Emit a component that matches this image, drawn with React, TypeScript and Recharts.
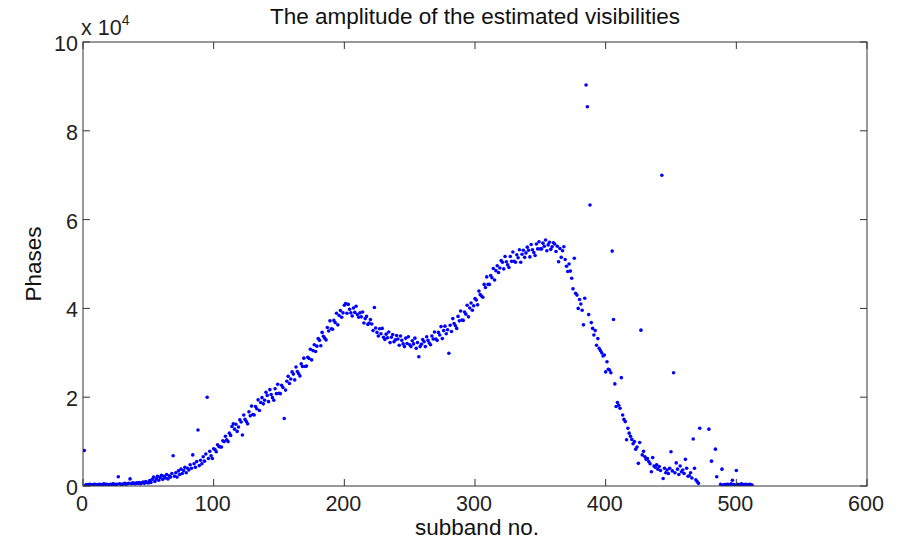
import { Scatter, ScatterChart, XAxis, YAxis } from "recharts";

// amplitude per subband, in units of 1e4 (null = no point drawn)
const amp001to050 = [
  0.8, 0.02, 0.03, 0.02, 0.04, 0.03, 0.02, 0.03, 0.04, 0.02,
  0.03, 0.03, 0.04, 0.02, 0.03, 0.05, 0.03, 0.04, 0.03, 0.02,
  0.04, 0.03, 0.05, 0.04, 0.03, 0.04, 0.21, 0.05, 0.04, 0.03,
  0.05, 0.06, 0.04, 0.05, 0.06, 0.16, 0.05, 0.07, 0.06, 0.05,
  0.07, 0.06, 0.08, 0.05, 0.07, 0.09, 0.06, 0.1, 0.08, 0.07,
];
const amp051to100 = [
  0.12, 0.08, 0.15, 0.2, 0.1, 0.16, 0.22, 0.13, 0.19, 0.24,
  0.15, 0.22, 0.18, 0.26, 0.16, 0.23, 0.2, 0.28, 0.68, 0.22,
  0.3, 0.2, 0.34, 0.26, 0.38, 0.28, 0.35, 0.42, 0.3, 0.4,
  0.36, 0.48, 0.4, 0.7, 0.5, 0.42, 0.55, 1.26, 0.46, 0.58,
  0.5, 0.66, 0.56, 0.72, 2.0, 0.62, 0.78, 0.68, 0.62, 0.84,
];
const amp101to150 = [
  0.82, 0.77, 0.93, 0.89, 0.88, 0.88, 1.02, 1.0, 1.12, 1.04,
  1.0, 1.19, 1.14, 1.34, 1.4, 1.28, 1.39, 1.23, 1.33, 1.49,
  1.44, 1.15, 1.6, 1.5, 1.45, 1.4, 1.67, 1.58, 1.8, 1.61,
  1.6, 1.79, 1.74, 1.94, 1.7, 1.88, 1.99, 1.85, 1.93, 2.11,
  2.04, 1.9, 2.17, 2.06, 1.99, 1.93, 2.19, 2.08, 2.29, 2.09,
];
const amp151to200 = [
  2.08, 2.27, 2.22, 1.52, 2.16, 2.36, 2.47, 2.31, 2.41, 2.57,
  2.52, 2.39, 2.68, 2.58, 2.53, 2.48, 2.75, 2.69, 2.88, 2.69,
  2.7, 2.9, 2.87, 3.08, 2.84, 3.05, 3.18, 3.03, 3.15, 3.32,
  3.28, 3.16, 3.46, 3.37, 3.33, 3.29, 3.57, 3.49, 3.72, 3.54,
  3.53, 3.73, 3.68, 3.89, 3.63, 3.84, 3.95, 3.8, 3.9, 4.07,
];
const amp201to250 = [
  4.11, 3.89, 4.09, 3.98, 3.9, 3.83, 4.01, 3.91, 4.05, 3.86,
  3.8, 3.9, 3.81, 3.92, 3.67, 3.77, 3.82, 3.64, 3.67, 3.75,
  3.65, 3.5, 4.02, 3.56, 3.46, 3.38, 3.54, 3.43, 3.55, 3.35,
  3.3, 3.42, 3.34, 3.47, 3.23, 3.35, 3.41, 3.25, 3.29, 3.39,
  3.31, 3.17, 3.38, 3.28, 3.2, 3.14, 3.33, 3.21, 3.36, 3.18,
];
const amp251to300 = [
  3.14, 3.27, 3.2, 3.33, 3.1, 3.23, 2.91, 3.14, 3.19, 3.3,
  3.25, 3.14, 3.36, 3.28, 3.22, 3.18, 3.38, 3.31, 3.47, 3.31,
  3.28, 3.46, 3.4, 3.59, 3.32, 3.5, 3.6, 3.43, 3.52, 2.99,
  3.62, 3.48, 3.77, 3.66, 3.61, 3.55, 3.82, 3.72, 3.94, 3.74,
  3.73, 3.92, 3.87, 4.07, 3.81, 4.01, 4.12, 3.96, 4.06, 4.22,
];
const amp301to350 = [
  4.19, 4.08, 4.39, 4.31, 4.28, 4.25, 4.54, 4.47, 4.71, 4.54,
  4.54, 4.74, 4.69, 4.9, 4.64, 4.85, 4.96, 4.81, 4.91, 5.08,
  5.04, 4.89, 5.17, 5.05, 4.98, 4.92, 5.17, 5.06, 5.27, 5.06,
  5.04, 5.21, 5.14, 5.32, 5.04, 5.22, 5.31, 5.15, 5.25, 5.38,
  5.31, 5.16, 5.44, 5.32, 5.26, 5.19, 5.45, 5.34, 5.5, 5.34,
];
const amp351to400 = [
  5.34, 5.47, 5.4, 5.54, 5.3, 5.43, 5.49, 5.33, 5.39, 5.48,
  5.45, 5.28, 5.4, 5.05, 5.35, 5.15, 5.3, 5.39, 5.1, 4.95,
  4.83, 5.0, 4.84, 4.68, 4.44, 5.13, 4.34, 4.3, 4.0, 4.2,
  4.1, 3.96, 3.63, 4.23, 9.03, 8.54, 3.86, 6.33, 3.68, 3.55,
  3.4, 3.5, 3.17, 3.32, 3.1, 3.05, 3.0, 2.93, 2.95, 2.57,
];
const amp401to450 = [
  2.8, 2.63, 2.61, 2.55, 5.29, 3.75, 2.3, 1.79, 1.88, 1.82,
  1.75, 2.44, 1.6, 1.5, 1.45, 1.04, 1.3, 1.19, 1.12, 1.05,
  0.95, 1.0, 0.83, 0.88, 0.51, 0.98, 3.51, 0.7, 0.78, 0.66,
  0.6, 0.62, 0.55, 0.5, 0.32, 0.64, 0.45, 0.42, 0.48, 0.38,
  0.44, 0.35, 7.0, 0.17, 0.4, 0.3, 0.36, 0.28, 0.4, 0.77,
];
const amp451to512 = [
  0.34, 2.55, 0.3, 0.52, 0.38, 0.26, 0.45, 0.32, 0.36, 0.28,
  0.6, 0.4, 0.22, 0.23, 0.3, 0.18, 1.06, 0.4, 0.14, 0.1,
  0.06, 1.3, null, null, null, null, null, null, 1.28, null,
  0.56, null, null, 0.83, 0.21, null, null, 0.04, 0.38, 0.02,
  0.03, 0.02, 0.04, 0.03, 0.02, 0.05, 0.13, 0.03, 0.02, 0.35,
  0.04, 0.03, 0.02, 0.05, 0.03, 0.02, 0.04, 0.03, 0.02, 0.04,
  0.03, 0.02,
];

const xTicks = [0, 100, 200, 300, 400, 500, 600];
const yTicks = [0, 2, 4, 6, 8, 10];

const amplitudes: (number | null)[] = [
  ...amp001to050, ...amp051to100, ...amp101to150, ...amp151to200, ...amp201to250,
  ...amp251to300, ...amp301to350, ...amp351to400, ...amp401to450, ...amp451to512,
];

const data = amplitudes
  .map((amp, i) => ({ subband: i + 1, amp }))
  .filter((d) => d.amp !== null);

const W = 902;
const H = 543;
const LEFT = 83;
const RIGHT = 867;
const TOP = 42;
const BOTTOM = 486;
const TICK = 7;
const AXIS = "#333";
const FONT = "'Liberation Sans', Arial, Helvetica, sans-serif";

function XTick(props: any) {
  const { x, payload } = props;
  return (
    <g>
      <line x1={x} x2={x} y1={BOTTOM} y2={BOTTOM - TICK} stroke={AXIS} />
      <line x1={x} x2={x} y1={TOP} y2={TOP + TICK} stroke={AXIS} />
      <text x={x - 1} y={511} textAnchor="middle" fontSize={21.5} fill="#222" fontFamily={FONT}>
        {payload.value}
      </text>
    </g>
  );
}

function YTick(props: any) {
  const { y, payload } = props;
  return (
    <g>
      <line x1={LEFT} x2={LEFT + TICK} y1={y} y2={y} stroke={AXIS} />
      <line x1={RIGHT} x2={RIGHT - TICK} y1={y} y2={y} stroke={AXIS} />
      <text x={78} y={y + 9} textAnchor="end" fontSize={21.5} fill="#222" fontFamily={FONT}>
        {payload.value}
      </text>
    </g>
  );
}

const renderDot = (p: any) => <circle cx={p.cx} cy={p.cy} r={1.8} fill="#0000ff" />;

export default function App() {
  return (
    <div style={{ position: "absolute", left: 0, top: 0, width: W, height: H, background: "#fff" }}>
      <ScatterChart width={W} height={H} margin={{ top: TOP, right: W - RIGHT, bottom: 0, left: 0 }}>
        <XAxis
          type="number"
          dataKey="subband"
          domain={[0, 600]}
          ticks={xTicks}
          interval={0}
          height={H - BOTTOM}
          tick={<XTick />}
          tickLine={false}
          axisLine={false}
          tickSize={0}
          allowDataOverflow
        />
        <YAxis
          type="number"
          dataKey="amp"
          domain={[0, 10]}
          ticks={yTicks}
          interval={0}
          width={LEFT}
          tick={<YTick />}
          tickLine={false}
          axisLine={false}
          tickSize={0}
          allowDataOverflow
        />
        <Scatter data={data} shape={renderDot} isAnimationActive={false} />
      </ScatterChart>
      <svg
        width={W}
        height={H}
        style={{ position: "absolute", left: 0, top: 0, pointerEvents: "none" }}
        fontFamily={FONT}
      >
        <rect x={LEFT} y={TOP} width={RIGHT - LEFT} height={BOTTOM - TOP} fill="none" stroke={AXIS} />
        <text x={(LEFT + RIGHT) / 2} y={24} textAnchor="middle" fontSize={22.5} fill="#111">
          The amplitude of the estimated visibilities
        </text>
        <text x={81} y={35} fontSize={21.5} fill="#222">
          x 10
          <tspan dy={-10} fontSize={14}>4</tspan>
        </text>
        <text x={477} y={535} textAnchor="middle" fontSize={22.5} fill="#111">
          subband no.
        </text>
        <text x={41} y={264} textAnchor="middle" fontSize={22.5} fill="#111" transform="rotate(-90 41 264)">
          Phases
        </text>
      </svg>
    </div>
  );
}
